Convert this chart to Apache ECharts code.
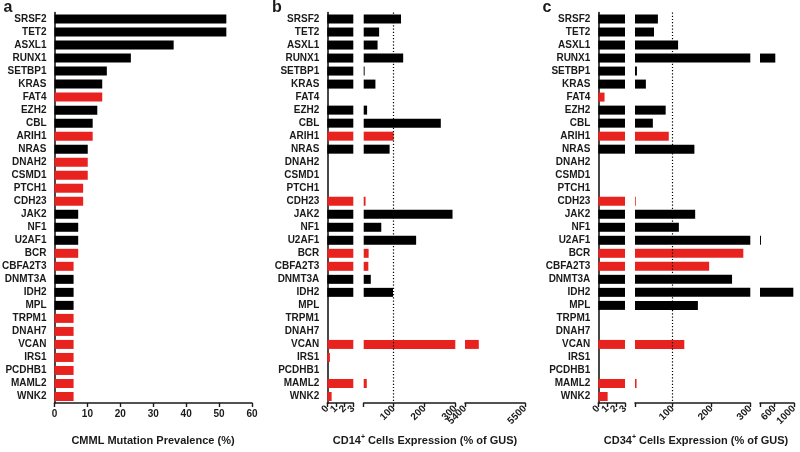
<!DOCTYPE html>
<html lang="en">
<head>
<meta charset="UTF-8">
<title>CMML mutations</title>
<style>
  html, body { margin: 0; padding: 0; background: #fff; }
  #main { width: 800px; height: 452px; }
</style>
</head>
<body>
<div id="main"></div>
<script src="https://cdn.jsdelivr.net/npm/echarts@6/dist/echarts.min.js"></script>
<script>
// genes, top to bottom
var genes = ['SRSF2', 'TET2', 'ASXL1', 'RUNX1', 'SETBP1', 'KRAS', 'FAT4', 'EZH2', 'CBL', 'ARIH1',
    'NRAS', 'DNAH2', 'CSMD1', 'PTCH1', 'CDH23', 'JAK2', 'NF1', 'U2AF1', 'BCR', 'CBFA2T3',
    'DNMT3A', 'IDH2', 'MPL', 'TRPM1', 'DNAH7', 'VCAN', 'IRS1', 'PCDHB1', 'MAML2', 'WNK2'];
// 1 = red bar (newly reported gene)
var novel = [0, 0, 0, 0, 0, 0, 1, 0, 0, 1,
    0, 1, 1, 1, 1, 0, 0, 0, 1, 1,
    0, 0, 0, 1, 1, 1, 1, 1, 1, 1];
var prevalence = [52.2, 52.2, 36.2, 23.2, 15.9, 14.5, 14.5, 13.0, 11.6, 11.6,
    10.1, 10.1, 10.1, 8.7, 8.7, 7.2, 7.2, 7.2, 7.2, 5.8,
    5.8, 5.8, 5.8, 5.8, 5.8, 5.8, 5.8, 5.8, 5.8, 5.8];
var cd14 = [124, 53, 48, 131, 6, 41, 0, 14, 253, 100,
    87, 0, 0, 0, 9, 291, 60, 173, 19, 18,
    26, 98, 0, 0, 0, 5423, 0.3, 0, 13, 0.5];
var cd34 = [62, 52, 114, 615, 8, 31, 0.7, 82, 49, 90,
    156, 0, 0, 0, 5, 158, 116, 320, 282, 194,
    253, 986, 165, 0, 0, 130, 0, 0, 7, 1.05];

// axis segments [min, max] and their tick labels
var segA = [[0, 60]];
var labelsA = [[0, 10, 20, 30, 40, 50, 60]];
var segB = [[0, 3], [3, 300], [5400, 5500]];
var labelsB = [[0, 1, 2, 3], [100, 200, 300], [5400, 5500]];
var segC = [[0, 3], [3, 300], [300, 1000]];
var labelsC = [[0, 1, 2, 3], [100, 200, 300], [600, 1000]];
var refLine = 100;

var RED = '#e8231f', BLACK = '#000', INK = '#1a1a1a';
var FONT = 'Arial, "Liberation Sans", sans-serif';
var TOP = 12.5, HEIGHT = 390.5;

var grids = [], xAxes = [], yAxes = [], series = [];

function barColor(p) {
    return novel[p.dataIndex] ? RED : BLACK;
}

function addPanel(values, segs, labels, boxes, rotate) {
    segs.forEach(function (seg, i) {
        var g = grids.length;
        grids.push({left: boxes[i][0], width: boxes[i][1], top: TOP, height: HEIGHT,
            containLabel: false, outerBoundsMode: 'none'});
        var ticks = labels[i].slice();
        if (ticks.indexOf(seg[0]) < 0) ticks.unshift(seg[0]);
        xAxes.push({
            gridIndex: g, type: 'value', min: seg[0], max: seg[1],
            axisLine: {show: true, lineStyle: {color: INK, width: 1.6}},
            axisTick: {show: true, length: 4, customValues: ticks, lineStyle: {color: INK, width: 1.4}},
            axisLabel: {customValues: labels[i], rotate: rotate, margin: rotate ? 4 : 6,
                formatter: function (v) { return String(v); },
                fontSize: 10, fontWeight: 'bold', color: INK, fontFamily: FONT},
            splitLine: {show: false}
        });
        yAxes.push({
            gridIndex: g, type: 'category', inverse: true, data: genes, show: i === 0,
            axisLine: {lineStyle: {color: INK, width: 1.6}},
            axisTick: {alignWithLabel: true, length: 4, lineStyle: {color: INK, width: 1.2}},
            axisLabel: {fontSize: 10, fontWeight: 'bold', color: INK, fontFamily: FONT, margin: 8}
        });
        var data = values.map(function (v) {
            return v > seg[0] ? Math.min(v, seg[1]) : null;
        });
        series.push({
            type: 'bar', xAxisIndex: g, yAxisIndex: g, data: data, barWidth: 9,
            clip: true, z: 3, itemStyle: {color: barColor}
        });
        if (seg[0] < refLine && seg[1] > refLine) {
            series.push({
                type: 'line', xAxisIndex: g, yAxisIndex: g, data: [], z: 1,
                markLine: {
                    silent: true, symbol: ['none', 'none'], label: {show: false},
                    lineStyle: {color: '#000', type: [1.2, 2], width: 1.2},
                    data: [{xAxis: refLine}]
                }
            });
        }
    });
}

addPanel(prevalence, segA, labelsA, [[54.5, 197.5]], 0);
addPanel(cd14, segB, labelsB, [[327.3, 26], [363.7, 91.6], [465, 60]], 45);
addPanel(cd34, segC, labelsC, [[598.3, 26.7], [635, 115.3], [760, 34]], 45);

function txt(x, y, text, size) {
    return {
        type: 'text', x: x, y: y,
        style: {
            text: text, fontSize: size, fontWeight: 'bold', fill: INK, fontFamily: FONT,
            align: 'center', verticalAlign: 'middle',
            rich: {
                b: {fontSize: size, fontWeight: 'bold', fill: INK, fontFamily: FONT},
                s: {fontSize: 7, fontWeight: 'bold', fill: INK, fontFamily: FONT, padding: [0, 0, 7, 0]}
            }
        }
    };
}

var option = {
    animation: false,
    backgroundColor: '#fff',
    grid: grids,
    xAxis: xAxes,
    yAxis: yAxes,
    series: series,
    graphic: [
        txt(8, 8, 'a', 16),
        txt(277, 8, 'b', 16),
        txt(547, 8, 'c', 16),
        txt(153, 441, 'CMML Mutation Prevalence (%)', 11),
        txt(425, 441, '{b|CD14}{s|+}{b| Cells Expression (% of GUS)}', 11),
        txt(696, 441, '{b|CD34}{s|+}{b| Cells Expression (% of GUS)}', 11)
    ]
};

var chart = echarts.init(document.getElementById('main'));
chart.setOption(option);
</script>
</body>
</html>
